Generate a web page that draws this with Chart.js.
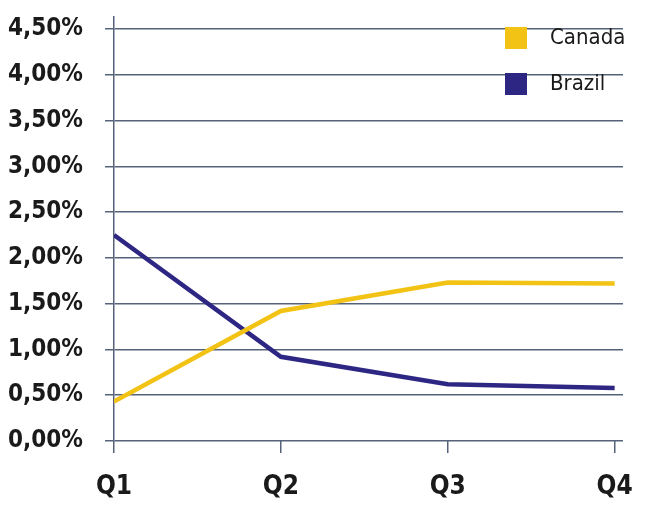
<!DOCTYPE html>
<html>
<head>
<meta charset="utf-8">
<script src="https://cdn.jsdelivr.net/npm/chart.js@4"></script>
<style>
  html, body { margin: 0; padding: 0; background: #fff; }
  #wrap { width: 650px; height: 511px; }
</style>
</head>
<body>
<div id="wrap"><canvas id="lineChart" width="650" height="511"></canvas></div>
<script>
const quarters = ["Q1", "Q2", "Q3", "Q4"];
const canadaValues = [0.43, 1.42, 1.73, 1.72];
const brazilValues = [2.25, 0.92, 0.62, 0.58];
const yTicks = [0, 0.5, 1, 1.5, 2, 2.5, 3, 3.5, 4, 4.5];

const FONT = "'DejaVu Sans Condensed', 'Liberation Sans Narrow', sans-serif";
const gridColor = "#56627a";

// legend drawn inside the plot, top right, stacked
const innerLegend = {
  id: "innerLegend",
  afterDraw(chart) {
    const ctx = chart.ctx;
    ctx.save();
    ctx.font = "22px " + FONT;
    ctx.textBaseline = "middle";
    chart.data.datasets.forEach((ds, i) => {
      const y = 38 + i * 46;
      ctx.fillStyle = ds.borderColor;
      ctx.fillRect(505, y - 11, 22, 22);
      ctx.fillStyle = "#1a1a1a";
      ctx.fillText(ds.label, 550, y);
    });
    ctx.restore();
  },
};

new Chart(document.getElementById("lineChart").getContext("2d"), {
  type: "line",
  data: {
    datasets: [
      {
        label: "Canada",
        data: canadaValues.map((v, i) => ({ x: i, y: v })),
        borderColor: "#f2c314",
        backgroundColor: "#f2c314",
        borderWidth: 4.5,
        pointRadius: 0,
        tension: 0,
      },
      {
        label: "Brazil",
        data: brazilValues.map((v, i) => ({ x: i, y: v })),
        borderColor: "#2e2683",
        backgroundColor: "#2e2683",
        borderWidth: 4.5,
        pointRadius: 0,
        tension: 0,
      },
    ],
  },
  options: {
    responsive: false,
    animation: false,
    layout: { padding: { top: 17, right: 27, left: 0, bottom: 0 } },
    plugins: {
      legend: { display: false },
      tooltip: { enabled: false },
    },
    scales: {
      x: {
        type: "linear",
        min: 0,
        max: 3.05,
        afterBuildTicks: (scale) => {
          scale.ticks = quarters.map((q, i) => ({ value: i }));
        },
        afterFit: (scale) => {
          scale.height = 70;
          scale.paddingLeft = 0;
          scale.paddingRight = 0;
        },
        grid: {
          drawOnChartArea: false,
          color: gridColor,
          lineWidth: 1.5,
          tickLength: 12,
        },
        border: { display: false },
        ticks: {
          callback: (v) => quarters[v],
          color: "#1a1a1a",
          font: { family: FONT, size: 26, weight: "bold" },
          padding: 19,
          maxRotation: 0,
        },
      },
      y: {
        min: 0,
        max: 4.631,
        afterBuildTicks: (scale) => {
          scale.ticks = yTicks.map((v) => ({ value: v }));
        },
        afterFit: (scale) => {
          scale.width = 114;
          scale.paddingTop = 0;
          scale.paddingBottom = 0;
        },
        grid: {
          color: gridColor,
          lineWidth: 1.5,
          tickLength: 9,
        },
        border: { display: true, color: gridColor, width: 1.5 },
        ticks: {
          callback: (v) => v.toFixed(2).replace(".", ",") + "%",
          color: "#1a1a1a",
          font: { family: FONT, size: 24, weight: "bold" },
          padding: 22,
        },
      },
    },
  },
  plugins: [innerLegend],
});
</script>
</body>
</html>
